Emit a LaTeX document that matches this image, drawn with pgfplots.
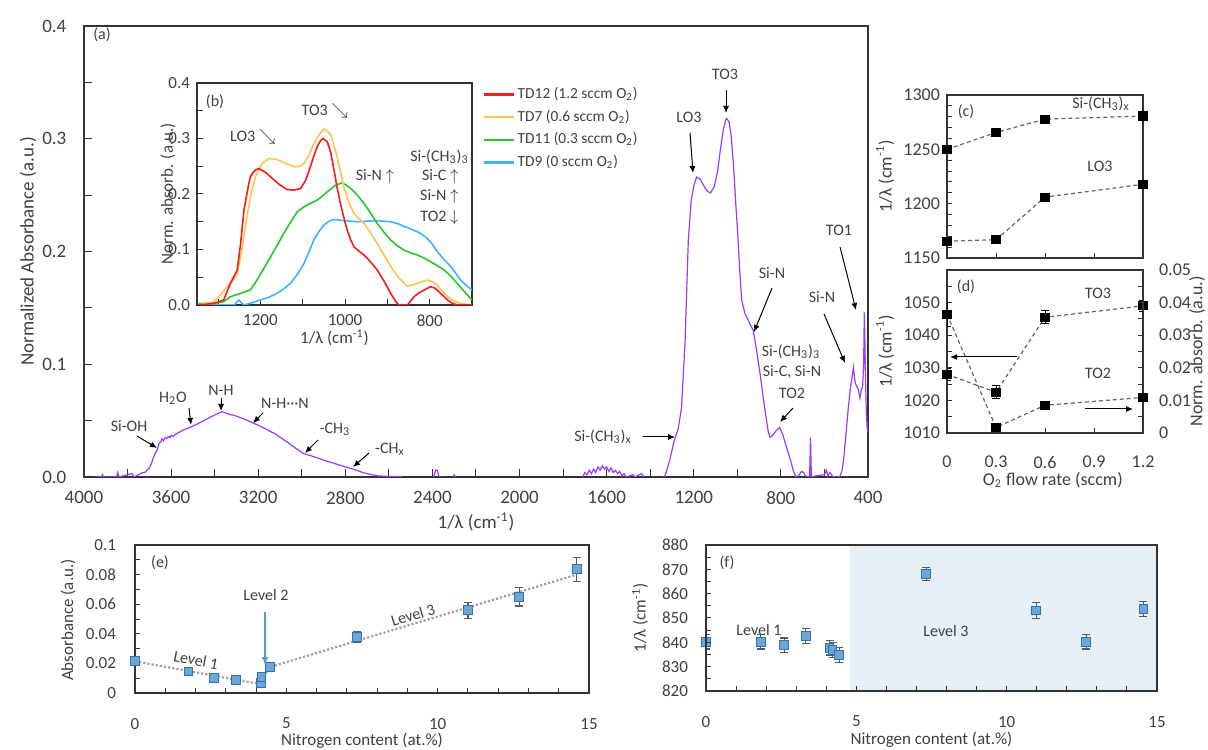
\documentclass[border=0pt]{standalone}
\usepackage{fontspec}
\setmainfont{Carlito}
\usepackage{pgfplots}
\pgfplotsset{compat=1.18}
\usetikzlibrary{arrows.meta}

\definecolor{txt}{RGB}{64,64,64}
\definecolor{purp}{RGB}{150,60,255}
\definecolor{cred}{RGB}{240,30,30}
\definecolor{cyel}{RGB}{255,196,80}
\definecolor{cgrn}{RGB}{40,200,40}
\definecolor{cblu}{RGB}{60,180,255}
\definecolor{mkfill}{RGB}{110,165,215}
\definecolor{mkdraw}{RGB}{46,117,182}
\definecolor{shadec}{RGB}{230,238,246}
\definecolor{errc}{RGB}{90,90,90}
\definecolor{dashc}{RGB}{100,100,100}
\definecolor{lvl}{RGB}{91,155,213}

\pgfplotsset{
  base/.style={scale only axis, anchor=south west, tick pos=left, tick align=inside,
    axis line style={black!80, line width=0.6pt},
    every tick/.style={black!80, line width=0.5pt},
    tick label style={text=txt}, label style={text=txt},
    scaled ticks=false,
    /pgf/number format/assume math mode=true, /pgf/number format/1000 sep={},
    clip mode=individual},
  fix1/.style={/pgf/number format/fixed, /pgf/number format/fixed zerofill, /pgf/number format/precision=1},
  fix2/.style={/pgf/number format/fixed, /pgf/number format/precision=2},
  blueerr/.style={only marks, mark=square*, mark size=2.2pt,
    mark options={fill=mkfill, draw=mkdraw, line width=0.5pt},
    error bars/.cd, y dir=both, y explicit,
    error bar style={errc, line width=0.6pt},
    error mark options={rotate=90, errc, mark size=2pt, line width=0.6pt}},
  blackdash/.style={dashc, line width=0.6pt, dash pattern=on 2pt off 1.5pt,
    mark=square*, mark size=2pt, mark options={solid, fill=black, draw=black}},
}

\begin{document}
\begin{tikzpicture}
\useasboundingbox (0,0) rectangle (604pt,374.5pt);

% ---------------- (a) main spectrum ----------------
\begin{axis}[base, at={(42pt,136pt)}, width=392pt, height=225.5pt,
  x dir=reverse, xmin=400, xmax=4000, ymin=0, ymax=0.4,
  xtick={400,800,1200,1600,2000,2400,2800,3200,3600,4000}, minor x tick num=1,
  ytick={0,0.1,0.2,0.3,0.4}, minor y tick num=1,
  yticklabel style={fix1, xshift=-5.3pt},
  tick label style={font=\fontsize{9.5}{11}\selectfont},
  major tick length=4pt, minor tick length=4pt,
  xticklabel style={yshift=-3.5pt},
  xlabel={1/λ (cm\textsuperscript{-1})}, ylabel={Normalized Absorbance (a.u.)},
  label style={font=\fontsize{9.5}{11}\selectfont},
  xlabel style={at={(axis description cs:0.5,-0.0998)}, anchor=center},
  ylabel style={at={(axis description cs:-0.0714,0.5)}, anchor=center},
]
\addplot[purp, line width=0.6pt] coordinates {
(3950,0)(3920,0)(3915,0.002)(3910,0)(3850,0)(3845,0.004)(3840,0)(3820,0.001)(3800,0.002)
(3780,0.003)(3770,0)(3750,0.002)(3730,0.004)(3720,0.004)(3700,0.008)(3690,0.012)(3680,0.018)
(3670,0.022)(3662,0.025)(3655,0.030)(3648,0.031)(3642,0.034)(3635,0.032)(3628,0.035)
(3620,0.034)(3612,0.036)(3605,0.035)(3598,0.037)(3590,0.036)(3580,0.038)(3560,0.040)
(3540,0.042)(3513,0.044)(3480,0.047)(3440,0.051)(3400,0.055)(3366,0.058)(3340,0.056)
(3300,0.054)(3260,0.051)(3224,0.048)(3180,0.044)(3120,0.038)(3060,0.030)(2995,0.021)
(2960,0.019)(2900,0.015)(2850,0.012)(2800,0.009)(2765,0.007)(2720,0.004)(2680,0.002)
(2650,0.001)(2600,0.0005)(2540,0.0005)};
\addplot[purp, line width=0.6pt] coordinates {(2395,0)(2385,0.006)(2378,0.006)(2370,0)(2360,0)};
\addplot[purp, line width=0.6pt] coordinates {(2305,0)(2300,0.002)(2295,0)};
\addplot[purp, line width=0.6pt] coordinates {
(1710,0)(1700,0.004)(1690,0.002)(1680,0.006)(1670,0.003)(1660,0.007)(1650,0.004)(1640,0.009)
(1630,0.006)(1620,0.010)(1610,0.007)(1600,0.009)(1590,0.005)(1580,0.008)(1570,0.004)
(1560,0.006)(1550,0.003)(1540,0.005)(1530,0.001)(1520,0.003)(1510,0)(1480,0.002)(1470,0)
(1440,0.003)(1430,0)};
\addplot[purp, line width=0.6pt] coordinates {
(1340,0)(1332,0.001)(1310,0.015)(1295,0.028)(1287,0.034)(1271,0.043)(1256,0.062)(1240,0.12)
(1225,0.21)(1212,0.245)(1200,0.258)(1187,0.266)(1170,0.264)(1150,0.257)(1135,0.253)
(1123,0.252)(1105,0.258)(1090,0.272)(1078,0.290)(1065,0.307)(1055,0.316)(1049,0.318)
(1038,0.315)(1028,0.302)(1017,0.275)(1008,0.245)(998,0.215)(988,0.180)(980,0.157)
(965,0.145)(945,0.137)(927,0.130)(912,0.113)(896,0.092)(875,0.062)(858,0.040)(850,0.035)
(838,0.037)(822,0.041)(806,0.044)(792,0.038)(772,0.025)(756,0.015)(742,0.005)(731,0)
(720,0.001)(705,0.005)(695,0.004)(688,0.001)(668,0)(664,0.035)(660,0)(640,0.001)
(600,0.002)(590,0.006)(585,0.001)(575,0.004)(560,0)(530,0)(520,0.005)(512,0.015)
(505,0.030)(498,0.045)(490,0.062)(480,0.080)(472,0.090)(467,0.097)(462,0.088)(458,0.083)
(450,0.080)(445,0.078)(437,0.070)(430,0.078)(425,0.080)(420,0.100)(417,0.146)(414,0.120)
(412,0.092)(408,0.060)(404,0.044)(401,0.040)};
\end{axis}

% ---------------- (b) inset ----------------
\begin{axis}[base, at={(98.5pt,222pt)}, width=137.5pt, height=111pt,
  axis background/.style={fill=white},
  x dir=reverse, xmin=700, xmax=1350, ymin=0, ymax=0.4,
  xtick={800,1000,1200}, minor xtick={700,900,1100,1300},
  ytick={0,0.1,0.2,0.3,0.4}, minor y tick num=1,
  major tick length=3pt, minor tick length=3pt,
  yticklabel style={fix1},
  tick label style={font=\fontsize{8.5}{10}\selectfont},
  xticklabel style={yshift=-1.2pt},
  xlabel={1/λ (cm\textsuperscript{-1})}, ylabel={Norm. absorb. (a.u.)},
  label style={font=\fontsize{8.5}{10}\selectfont},
  xlabel style={at={(axis description cs:0.5,-0.1486)}, anchor=center},
  ylabel style={at={(axis description cs:-0.106,0.5)}, anchor=center},
  legend style={at={(axis description cs:1.015,1.0135)}, anchor=north west, draw=none, fill=none,
    font=\fontsize{7.7}{9}\selectfont, text=txt, row sep=1.2pt, nodes={inner sep=1.5pt}},
  legend cell align=left, reverse legend,
  legend image code/.code={\draw[#1, line width=1.1pt] (0pt,0pt) -- (15pt,0pt);},
]
\addplot[cblu, line width=0.8pt] coordinates {
(1346,0)(1263,0)(1257,0.004)(1251,0.009)(1245,0.004)(1239,0)(1220,0.004)(1200,0.009)(1180,0.014)
(1161,0.021)(1145,0.029)(1129,0.039)(1113,0.055)(1097,0.075)(1085,0.096)(1074,0.117)(1062,0.132)
(1050,0.144)(1038,0.151)(1026,0.154)(1015,0.153)(1003,0.152)(987,0.151)(971,0.150)(950,0.151)
(924,0.152)(908,0.151)(892,0.150)(877,0.147)(861,0.142)(845,0.137)(829,0.132)(818,0.127)
(806,0.120)(794,0.110)(782,0.096)(766,0.082)(750,0.069)(738,0.057)(727,0.045)(713,0.035)(700,0.027)};
\addlegendentry{TD9 (0 sccm O\textsubscript{2})}
\addplot[cgrn, line width=0.8pt] coordinates {
(1346,0.003)(1310,0.003)(1287,0.006)(1280,0.010)(1271,0.015)(1250,0.020)(1224,0.027)(1208,0.045)
(1192,0.066)(1176,0.087)(1160,0.108)(1145,0.129)(1129,0.149)(1113,0.168)(1097,0.177)
(1082,0.183)(1066,0.189)(1054,0.196)(1042,0.204)(1032,0.210)(1022,0.216)(1007,0.220)
(997,0.216)(987,0.210)(971,0.198)(955,0.183)(940,0.166)(924,0.147)(908,0.131)(892,0.117)
(877,0.107)(861,0.099)(845,0.094)(829,0.090)(814,0.085)(798,0.078)(782,0.071)(766,0.063)
(750,0.052)(735,0.039)(718,0.024)(700,0.009)};
\addlegendentry{TD11 (0.3 sccm O\textsubscript{2})}
\addplot[cyel, line width=0.8pt] coordinates {
(1346,0)(1310,0.006)(1295,0.018)(1279,0.033)(1265,0.045)(1255,0.054)(1245,0.095)(1232,0.159)
(1222,0.200)(1212,0.231)(1196,0.255)(1180,0.264)(1161,0.262)(1140,0.255)(1121,0.249)
(1108,0.250)(1097,0.255)(1085,0.270)(1074,0.291)(1062,0.306)(1050,0.317)(1042,0.314)
(1034,0.306)(1027,0.290)(1019,0.267)(1011,0.240)(1003,0.213)(991,0.185)(979,0.165)
(967,0.155)(955,0.147)(940,0.130)(924,0.111)(908,0.090)(892,0.069)(872,0.048)(853,0.034)
(841,0.036)(829,0.039)(818,0.042)(806,0.045)(794,0.042)(782,0.036)(770,0.025)(758,0.015)
(742,0.007)(727,0.003)(700,0)};
\addlegendentry{TD7 (0.6 sccm O\textsubscript{2})}
\addplot[cred, line width=0.8pt] coordinates {
(1346,0)(1310,0.003)(1287,0.009)(1271,0.039)(1255,0.063)(1247,0.110)(1239,0.171)(1231,0.205)
(1224,0.231)(1214,0.242)(1204,0.246)(1190,0.240)(1176,0.231)(1157,0.218)(1137,0.208)(1121,0.207)
(1105,0.210)(1093,0.225)(1082,0.249)(1074,0.268)(1066,0.285)(1058,0.296)(1052,0.300)(1042,0.294)
(1034,0.275)(1026,0.243)(1019,0.212)(1011,0.183)(1003,0.158)(995,0.135)(987,0.118)(979,0.105)
(967,0.097)(955,0.090)(940,0.078)(924,0.063)(908,0.043)(892,0.021)(880,0.006)(873,0)(853,0)
(845,0.007)(837,0.015)(825,0.022)(813,0.027)(798,0.033)(790,0.031)(782,0.027)(770,0.018)
(758,0.009)(746,0.003)(735,0)(700,0)};
\addlegendentry{TD12 (1.2 sccm O\textsubscript{2})}
\end{axis}

% ---------------- (c) ----------------
\begin{axis}[base, at={(473.5pt,245.5pt)}, width=98pt, height=81.5pt,
  xmin=0, xmax=1.2, ymin=1150, ymax=1300,
  xtick={0,0.3,0.6,0.9,1.2}, xticklabels={},
  ytick={1150,1200,1250,1300}, minor y tick num=4,
  major tick length=2.5pt, minor tick length=2.5pt,
  tick label style={font=\fontsize{9}{10.5}\selectfont},
  ylabel={1/λ (cm\textsuperscript{-1})},
  label style={font=\fontsize{9}{10.5}\selectfont},
  ylabel style={at={(axis description cs:-0.316,0.5)}, anchor=center},
]
\addplot[blackdash] coordinates {(0,1250)(0.3,1265.5)(0.6,1277.8)(1.2,1280.6)};
\addplot[blackdash] coordinates {(0,1165.5)(0.3,1166.8)(0.6,1206)(1.2,1217.8)};
\end{axis}

% ---------------- (d) left ----------------
\begin{axis}[base, at={(473.5pt,158pt)}, width=98pt, height=81.5pt,
  xmin=0, xmax=1.2, ymin=1010, ymax=1060,
  xtick={0,0.3,0.6,0.9,1.2},
  xticklabels={0,0.3,0.6,0.9,1.2},
  ytick={1010,1020,1030,1040,1050}, minor ytick={1015,1025,1035,1045,1055},
  major tick length=2.5pt, minor tick length=2.5pt,
  tick label style={font=\fontsize{9}{10.5}\selectfont},
  xticklabel style={yshift=-8pt},
  xlabel={O\textsubscript{2} flow rate (sccm)}, ylabel={1/λ (cm\textsuperscript{-1})},
  label style={font=\fontsize{9}{10.5}\selectfont},
  xlabel style={at={(axis description cs:0.54,-0.288)}, anchor=center},
  ylabel style={at={(axis description cs:-0.316,0.5)}, anchor=center},
]
\addplot[blackdash, error bars/.cd, y dir=both, y explicit,
  error bar style={black, solid, line width=0.5pt},
  error mark options={rotate=90, black, solid, mark size=2pt, line width=0.5pt}]
  coordinates {(0,1028) +- (0,1.8) (0.3,1022.5) +- (0,2) (0.6,1045.5) +- (0,2) (1.2,1049) +- (0,1.6)};
\end{axis}

% ---------------- (d) right ----------------
\begin{axis}[base, at={(473.5pt,158pt)}, width=98pt, height=81.5pt,
  xmin=0, xmax=1.2, ymin=0, ymax=0.05,
  axis y line*=right, axis x line=none,
  ytick pos=right, yticklabel pos=right,
  ytick={0,0.01,0.02,0.03,0.04,0.05}, minor ytick={0.005,0.015,0.025,0.035,0.045},
  major tick length=2.5pt, minor tick length=2.5pt,
  yticklabel style={fix2, xshift=4.5pt},
  tick label style={font=\fontsize{9}{10.5}\selectfont},
  ylabel={Norm. absorb. (a.u.)},
  label style={font=\fontsize{9}{10.5}\selectfont},
  ylabel style={at={(axis description cs:1.2755,0.5)}, anchor=center},
]
\addplot[blackdash, error bars/.cd, y dir=both, y explicit,
  error bar style={black, solid, line width=0.5pt},
  error mark options={rotate=90, black, solid, mark size=2pt, line width=0.5pt}]
  coordinates {(0,0.0364) +- (0,0.0037) (0.3,0.0017) +- (0,0) (0.6,0.0085) +- (0,0) (1.2,0.0109) +- (0,0)};
\end{axis}

% ---------------- (e) ----------------
\begin{axis}[base, at={(67.5pt,28pt)}, width=227pt, height=74pt,
  xmin=0, xmax=15, ymin=0, ymax=0.1,
  xtick={0,5,10,15}, minor x tick num=4,
  ytick={0,0.02,0.04,0.06,0.08,0.1}, minor y tick num=1,
  major tick length=2.5pt, minor tick length=2.5pt,
  yticklabel style={fix2, xshift=-6pt},
  tick label style={font=\fontsize{8.5}{10}\selectfont},
  xticklabel style={yshift=-9pt},
  xlabel={Nitrogen content (at.\%)}, ylabel={Absorbance (a.u.)},
  label style={font=\fontsize{8.5}{10}\selectfont},
  xlabel style={at={(axis description cs:0.5,-0.324)}, anchor=center},
  ylabel style={at={(axis description cs:-0.1476,0.493)}, anchor=center},
]
\addplot[densely dotted, gray!75, line width=1.1pt] coordinates {(0,0.0214)(4.1,0.0062)(4.45,0.0175)(14.6,0.080)};
\addplot[blueerr] coordinates {
(0,0.0214) +- (0,0.0015) (1.77,0.0145) +- (0,0.0015) (2.62,0.0103) +- (0,0.0013)
(3.35,0.0089) +- (0,0.0012) (4.15,0.0066) +- (0,0.0012) (4.18,0.011) +- (0,0.0015)
(4.45,0.0175) +- (0,0.0015) (7.34,0.038) +- (0,0.0037) (11.0,0.056) +- (0,0.0054)
(12.7,0.065) +- (0,0.0062) (14.6,0.0836) +- (0,0.0080)};
\end{axis}

% ---------------- (f) ----------------
\begin{axis}[base, at={(353pt,29pt)}, width=225.5pt, height=73pt, axis on top,
  xmin=0, xmax=15, ymin=820, ymax=880,
  xtick={0,5,10,15}, minor x tick num=4,
  ytick={820,830,840,850,860,870,880}, minor y tick num=1,
  major tick length=2.5pt, minor tick length=2.5pt,
  tick label style={font=\fontsize{8.5}{10}\selectfont},
  xticklabel style={yshift=-9pt}, yticklabel style={xshift=-5.5pt},
  xlabel={Nitrogen content (at.\%)}, ylabel={1/λ (cm\textsuperscript{-1})},
  label style={font=\fontsize{8.5}{10}\selectfont},
  xlabel style={at={(axis description cs:0.5,-0.336)}, anchor=center},
  ylabel style={at={(axis description cs:-0.146,0.5)}, anchor=center},
]
\fill[shadec] (axis cs:4.8,820) rectangle (axis cs:15,880);
\addplot[blueerr] coordinates {
(0,840.3) +- (0,3) (1.82,840.3) +- (0,3) (2.6,838.8) +- (0,3) (3.32,842.6) +- (0,3)
(4.11,837.8) +- (0,3) (4.21,836.8) +- (0,3) (4.43,834.8) +- (0,3) (7.32,868.1) +- (0,2.8)
(10.98,853.1) +- (0,3.2) (12.65,840.2) +- (0,2.9) (14.55,853.8) +- (0,3.1)};
\end{axis}

% ---------------- annotations (pixel coordinates) ----------------
\begin{scope}[shift={(0pt,374.5pt)}, x=0.5pt, y=-0.5pt,
  every node/.style={text=txt, font=\fontsize{8}{9.6}\selectfont, inner sep=0pt},
  ann/.style={-{Latex[length=3.5pt,width=3pt]}, black, line width=0.5pt}]
% (a)
\node at (102,35) {(a)};
\node at (129,426) {Si-OH}; \draw[ann] (137,436) -- (157,448);
\node at (173,398) {H\textsubscript{2}O}; \draw[ann] (189,408) -- (191,425);
\node at (221,390) {N-H}; \draw[ann] (221,398) -- (221,411);
\node at (285,403) {N-H···N}; \draw[ann] (263,413) -- (253,423);
\node at (335,429) {-CH\textsubscript{3}}; \draw[ann] (318,440) -- (305,453);
\node at (390,449) {-CH\textsubscript{x}}; \draw[ann] (369,453) -- (353,467);
\node at (725,74) {TO3}; \draw[ann] (726,90) -- (726,113);
\node at (689,117) {LO3}; \draw[ann] (690,133) -- (693,173);
\node at (772,273) {Si-N}; \draw[ann] (772,288) -- (754,332);
\node at (791,352) {Si-(CH\textsubscript{3})\textsubscript{3}};
\node at (792,372) {Si-C, Si-N};
\node at (792,393) {TO2}; \draw[ann] (793,408) -- (780,422);
\node at (822,297) {Si-N}; \draw[ann] (824,314) -- (845,363);
\node at (839,230) {TO1}; \draw[ann] (840,247) -- (856,310);
\node at (603,437) {Si-(CH\textsubscript{3})\textsubscript{x}}; \draw[ann] (643,437) -- (675,437);
% (b)
\node at (215,102) {(b)};
\node at (325,112) {TO3 $\searrow$};
\node at (253,138) {LO3 $\searrow$};
\node at (375,177) {Si-N $\uparrow$};
\node[anchor=east] at (469,157) {Si-(CH\textsubscript{3})\textsubscript{3}};
\node[anchor=east] at (459,177) {Si-C $\uparrow$};
\node[anchor=east] at (459,197) {Si-N $\uparrow$};
\node[anchor=east] at (459,218) {TO2 $\downarrow$};
% (c), (d)
\node at (966,112) {(c)};
\node at (1101,104) {Si-(CH\textsubscript{3})\textsubscript{x}};
\node at (1100,166) {LO3};
\node at (966,287) {(d)};
\node at (1098,293) {TO3};
\node at (1098,373) {TO2};
\draw[ann] (1017,357) -- (950,357);
\draw[ann] (1085,409) -- (1133,409);
% (e)
\node at (160,563) {(e)};
\node[rotate=-11] at (196,660) {Level 1};
\node at (266,595) {Level 2};
\draw[-{Latex[length=4pt,width=3.5pt]}, lvl, line width=0.7pt] (265,612) -- (265,665);
\node[rotate=17] at (413,615) {Level 3};
% (f)
\node at (727,563) {(f)};
\node at (759,630) {Level 1};
\node at (946,631) {Level 3};
\end{scope}
\end{tikzpicture}
\end{document}
